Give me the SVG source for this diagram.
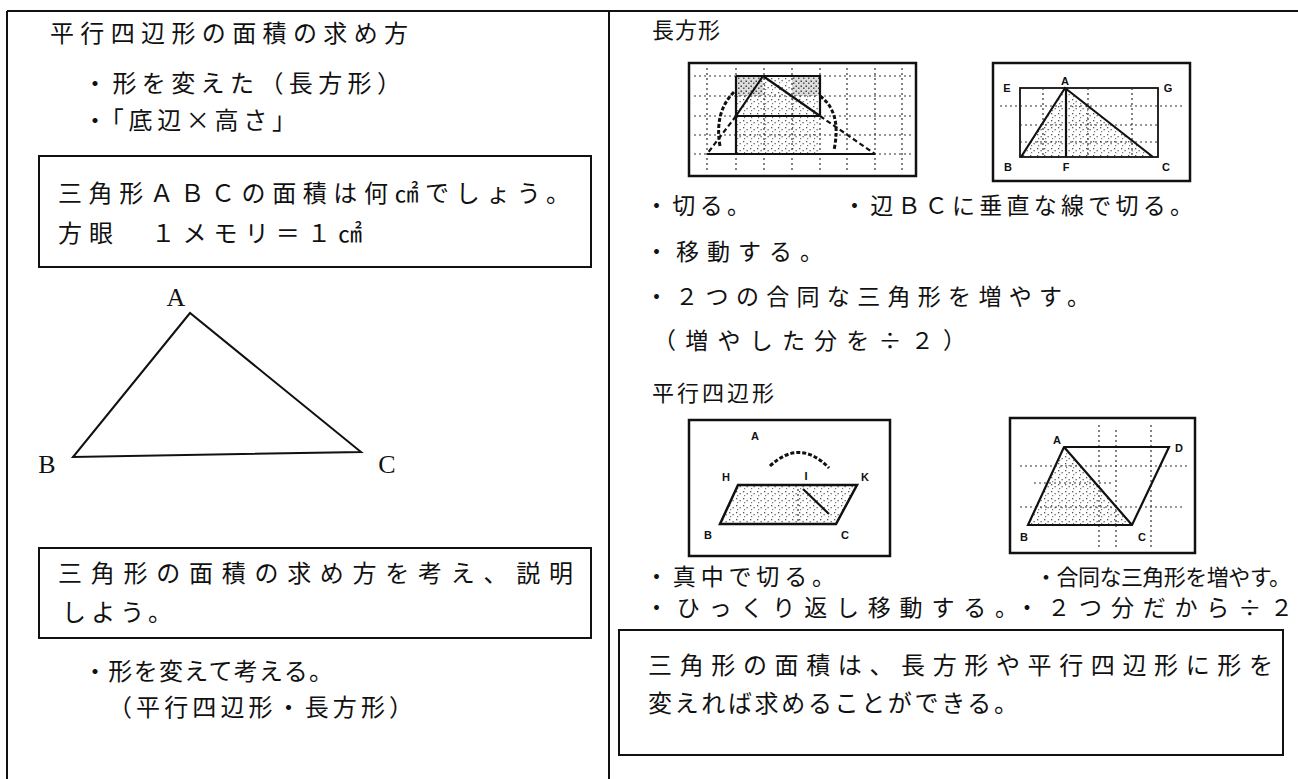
<svg xmlns="http://www.w3.org/2000/svg" width="1298" height="779" viewBox="0 0 1298 779">
<style>
.t{font-family:"Noto Sans CJK JP","Noto Sans",sans-serif;font-size:24px;fill:#111}
.r{font-family:"Noto Sans CJK JP","Noto Sans",sans-serif;font-size:23px;fill:#111}
.h{font-family:"Noto Sans CJK JP","Noto Sans",sans-serif;font-size:22px;fill:#111}
.lab{font-family:"Liberation Serif",serif;font-size:26px;fill:#111}
.sl{font-family:"Liberation Sans",sans-serif;font-size:11px;font-weight:bold;fill:#111}
.box{fill:none;stroke:#111;stroke-width:2}
.frame{fill:none;stroke:#111;stroke-width:2}
.fig{fill:#fff;stroke:#111;stroke-width:2.5}
.ln{fill:none;stroke:#111;stroke-width:2.2}
.dl{fill:none;stroke:#333;stroke-width:1.2;stroke-dasharray:2 3}
.arc{fill:none;stroke:#111;stroke-width:3;stroke-dasharray:4 2}
</style>
<defs>
<pattern id="st" width="7" height="7" patternUnits="userSpaceOnUse">
<rect width="7" height="7" fill="#fff"/>
<rect x="1" y="1" width="1.3" height="1.3" fill="#555"/>
<rect x="4.5" y="3" width="1.3" height="1.3" fill="#666"/>
<rect x="2" y="5" width="1.2" height="1.2" fill="#777"/>
</pattern>
<pattern id="st2" width="5" height="5" patternUnits="userSpaceOnUse">
<rect width="5" height="5" fill="#ddd"/>
<rect x="0.5" y="0.5" width="1.5" height="1.5" fill="#444"/>
<rect x="3" y="2.5" width="1.5" height="1.5" fill="#555"/>
</pattern>
</defs>
<rect width="1298" height="779" fill="#fff"/>

<g id="frame">
<path class="frame" d="M7 11 H1298 M7 11 V779 M609 11 V779"/>
</g>

<g id="left-heading">
<text class="t" x="50" y="42" textLength="358" lengthAdjust="spacing">平行四辺形の面積の求め方</text>
<text class="t" x="83" y="92" textLength="318" lengthAdjust="spacing">・形を変えた（長方形）</text>
<text class="t" x="83" y="129" textLength="213" lengthAdjust="spacing">・「底辺×高さ」</text>
</g>

<g id="problem-box">
<rect class="box" x="39" y="156" width="552" height="111"/>
<text class="t" x="58" y="202" textLength="512" lengthAdjust="spacing">三角形ＡＢＣの面積は何㎠でしょう。</text>
<text class="t" x="58" y="242" textLength="304" lengthAdjust="spacing">方眼　１メモリ＝１㎠</text>
</g>

<g id="triangle">
<polygon points="190,313 73,457 361,452" fill="none" stroke="#111" stroke-width="2"/>
<text class="lab" x="176" y="306" text-anchor="middle">A</text>
<text class="lab" x="47" y="473" text-anchor="middle">B</text>
<text class="lab" x="387" y="473" text-anchor="middle">C</text>
</g>

<g id="task-box">
<rect class="box" x="39" y="548" width="552" height="90"/>
<text class="t" x="58" y="582" textLength="515" lengthAdjust="spacing">三角形の面積の求め方を考え、説明</text>
<text class="t" x="62" y="621" textLength="110" lengthAdjust="spacing">しよう。</text>
</g>

<g id="left-notes">
<text class="t" x="83" y="680" textLength="250" lengthAdjust="spacing">・形を変えて考える。</text>
<text class="t" x="108" y="716" textLength="305" lengthAdjust="spacing">（平行四辺形・長方形）</text>
</g>

<g id="rect-heading">
<text class="h" x="652" y="38" textLength="68" lengthAdjust="spacing">長方形</text>
</g>

<g id="fig1">
<rect class="fig" x="689" y="63" width="227" height="113"/>
<rect x="736" y="76" width="84" height="78" fill="url(#st)"/>
<rect x="736" y="76" width="27" height="20" fill="url(#st2)"/>
<rect x="792" y="76" width="28" height="20" fill="url(#st2)"/>
<path class="dl" d="M694 76 H911 M694 96 H911 M694 116 H911 M694 135 H911 M694 154 H911"/>
<path class="dl" d="M707 68 V172 M736 68 V172 M764 68 V172 M792 68 V172 M820 68 V172 M847 68 V172 M875 68 V172 M902 68 V172"/>
<path class="ln" d="M736 76 H820 V116 M736 76 V154 M707 154 H875 M736 116 H820 M763 76 L736 116 M763 76 L820 116"/>
<path class="ln" stroke-dasharray="5 3" d="M736 116 L707 154 M820 116 L875 154"/>
<path class="arc" d="M734 92 Q714 112 720 146"/>
<path class="arc" d="M820 96 Q842 112 834 150"/>
</g>

<g id="fig2">
<rect class="fig" x="993" y="63" width="197" height="118"/>
<polygon points="1065,88 1021,157 1153,157" fill="url(#st)"/>
<rect x="1020" y="88" width="138" height="69" fill="none" stroke="#111" stroke-width="1.8"/>
<path class="dl" d="M1000 106 H1182 M1020 125 H1158 M1020 142 H1158 M1043 88 V157 M1088 88 V157 M1132 88 V157"/>
<path class="ln" d="M1021 157 L1065 88 L1153 157 M1066 88 V157"/>
<text class="sl" x="1007" y="92" text-anchor="middle">E</text>
<text class="sl" x="1065" y="85" text-anchor="middle">A</text>
<text class="sl" x="1168" y="92" text-anchor="middle">G</text>
<text class="sl" x="1008" y="171" text-anchor="middle">B</text>
<text class="sl" x="1066" y="171" text-anchor="middle">F</text>
<text class="sl" x="1166" y="171" text-anchor="middle">C</text>
</g>

<g id="rect-notes">
<text class="r" x="645" y="214" textLength="105" lengthAdjust="spacing">・切る。</text>
<text class="r" x="843" y="214" textLength="350" lengthAdjust="spacing">・辺ＢＣに垂直な線で切る。</text>
<text class="r" x="645" y="260" textLength="178" lengthAdjust="spacing">・移動する。</text>
<text class="r" x="645" y="305" textLength="445" lengthAdjust="spacing">・２つの合同な三角形を増やす。</text>
<text class="r" x="653" y="349" textLength="313" lengthAdjust="spacing">（増やした分を÷２）</text>
</g>

<g id="para-heading">
<text class="h" x="652" y="401" textLength="122" lengthAdjust="spacing">平行四辺形</text>
</g>

<g id="fig3">
<rect class="fig" x="689" y="420" width="201" height="136"/>
<polygon points="738,485 857,485 836,524 720,524" fill="url(#st)" stroke="#111" stroke-width="2.5"/>
<path class="dl" d="M798 489 V522"/>
<path class="ln" d="M803 489 L829 514"/>
<path class="arc" stroke-width="2" d="M770 466 Q800 438 829 468"/>
<text class="sl" x="755" y="440" text-anchor="middle">A</text>
<text class="sl" x="726" y="481" text-anchor="middle">H</text>
<text class="sl" x="806" y="480" text-anchor="middle">I</text>
<text class="sl" x="865" y="481" text-anchor="middle">K</text>
<text class="sl" x="708" y="539" text-anchor="middle">B</text>
<text class="sl" x="845" y="539" text-anchor="middle">C</text>
</g>

<g id="fig4">
<rect class="fig" x="1010" y="418" width="185" height="135"/>
<polygon points="1064,447 1028,525 1132,525" fill="url(#st)"/>
<path class="dl" d="M1040 466 H1098 M1034 483 H1114 M1030 507 H1124 M1099 425 V548 M1116 430 V548 M1151 425 V548 M1020 466 H1190 M1020 507 H1185"/>
<path class="ln" d="M1064 447 H1169 L1132 525 H1028 Z M1064 447 L1132 525"/>
<text class="sl" x="1057" y="444" text-anchor="middle">A</text>
<text class="sl" x="1179" y="452" text-anchor="middle">D</text>
<text class="sl" x="1024" y="541" text-anchor="middle">B</text>
<text class="sl" x="1142" y="541" text-anchor="middle">C</text>
</g>

<g id="para-notes">
<text class="r" x="645" y="585" textLength="190" lengthAdjust="spacing">・真中で切る。</text>
<text class="r" x="1035" y="585" style="font-size:22px" textLength="256" lengthAdjust="spacing">・合同な三角形を増やす。</text>
<text class="r" x="645" y="616" textLength="648" lengthAdjust="spacing">・ひっくり返し移動する。・２つ分だから÷２</text>
</g>

<g id="conclusion-box">
<rect class="box" x="619" y="630" width="664" height="125"/>
<text class="t" x="648" y="674" textLength="625" lengthAdjust="spacing">三角形の面積は、長方形や平行四辺形に形を</text>
<text class="t" x="648" y="712" textLength="370" lengthAdjust="spacing">変えれば求めることができる。</text>
</g>

<g id="connectors"></g>
</svg>
